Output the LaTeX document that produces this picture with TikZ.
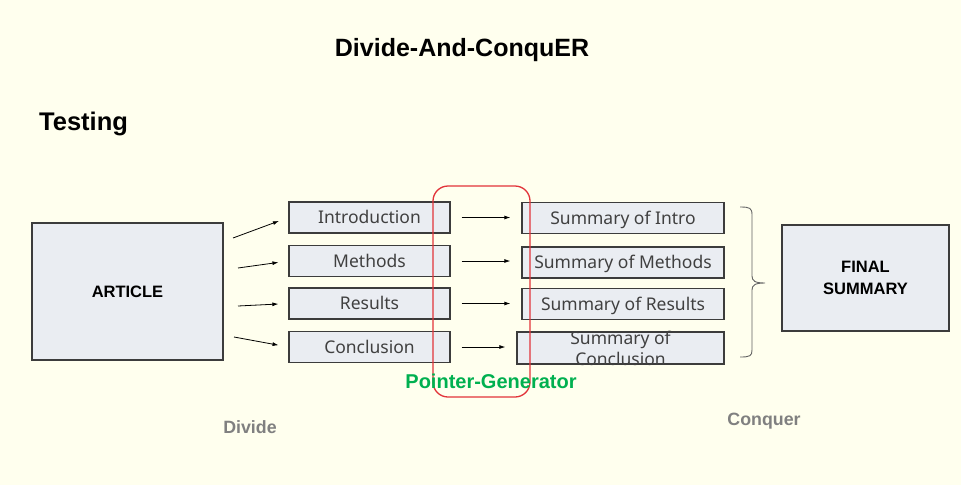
\documentclass[tikz,border=0pt]{standalone}
\usepackage{fontspec}
\setmainfont{Liberation Sans}
\newfontfamily\boxfont{Noto Sans}
\usetikzlibrary{calc,arrows.meta}

\definecolor{paper}{RGB}{255,255,238}
\definecolor{boxgray}{RGB}{234,237,242}
\definecolor{edgegray}{RGB}{60,60,60}
\definecolor{pgred}{RGB}{226,52,58}
\definecolor{pggreen}{RGB}{0,176,80}
\definecolor{labelgray}{RGB}{128,128,128}

\tikzset{
  part/.style={draw=edgegray,line width=1.3pt,fill=boxgray,minimum height=31,inner sep=0pt,
    text=black!75,font=\boxfont\fontsize{17.5}{21}\selectfont,text height=12.5,text depth=0},
  link/.style={-{Latex[length=6pt,width=4pt]},line width=0.8pt},
  bigbox/.style={part,font=\bfseries\fontsize{16.5}{22}\selectfont,text=black,align=center,text height=,text depth=},
}

\begin{document}
\begin{tikzpicture}[x=1pt,y=-1pt]
  \fill[paper] (0,0) rectangle (961,485);
  \useasboundingbox (0,0) rectangle (961,485);
  \node[font=\bfseries\fontsize{25}{30}\selectfont] (title) at (462,50) {Divide-And-ConquER};
  \node[font=\bfseries\fontsize{25.5}{30}\selectfont,anchor=west,inner sep=0pt] (testing) at (39,124) {Testing};

  \node[bigbox,minimum width=191,minimum height=137] (art) at (127.5,291.5) {ARTICLE};
  \node[bigbox,minimum width=167,minimum height=106] (final) at (865.5,278) {FINAL\\SUMMARY};

  \foreach \n/\y/\t in {intro/217.5/Introduction,meth/261/Methods,res/303.5/Results,conc/347/Conclusion}
    \node[part,minimum width=161] (\n) at (369.5,\y) {\t};
  \foreach \n/\y/\t in {sintro/218/Summary of Intro,smeth/262.5/Summary of Methods,sres/304/Summary of Results}
    \node[part,minimum width=202] (\n) at (623,\y) {\t};
  \node[part,minimum width=207,minimum height=32] (sconc) at (620.5,348) {};
  \node[part,draw=none,fill=none,align=center,text height=,text depth=] (sconctext) at (620.5,348) {Summary of\\Conclusion};

  \coordinate (a1) at (233,238); \coordinate (a2) at (238,268); \coordinate (a3) at (238,306); \coordinate (a4) at (234,337);
  \foreach \s/\e in {a1/intro,a2/meth,a3/res,a4/conc}\draw[link,shorten >=10pt] (\s) -- (\e.west);
  \foreach \s/\e in {intro/sintro,meth/smeth,res/sres,conc/sconc}\draw[link,shorten <=11pt,shorten >=11pt] (\s.east) -- (\e.west |- \s.east);

  \draw[edgegray!80,line width=0.9pt] (740,207) .. controls (750,207) and (752,208) .. (752,215) -- (752,276)
    .. controls (752,281) and (755,283) .. (765,283) .. controls (755,283) and (752,285) .. (752,290)
    -- (752,350) .. controls (752,356) and (750,357) .. (740,357);

  \draw[pgred,line width=1.3pt,rounded corners=15] (433,186) rectangle (530,397);
  \node[text=pggreen,font=\bfseries\fontsize{20}{24}\selectfont] (pg) at (491,381) {Pointer-Generator};
  \node[text=labelgray,font=\bfseries\fontsize{17.8}{20}\selectfont] (divide) at (250,427) {Divide};
  \node[text=labelgray,font=\bfseries\fontsize{17.8}{20}\selectfont] (conquer) at (764,421) {Conquer};
\end{tikzpicture}
\end{document}
